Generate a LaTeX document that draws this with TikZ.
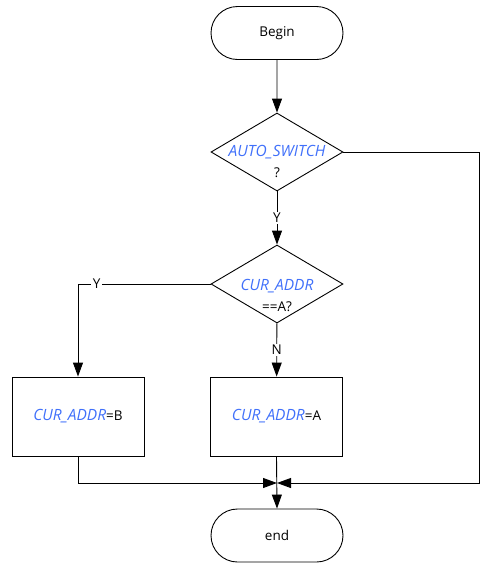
\documentclass[tikz,border=0pt]{standalone}
\usepackage{fontspec}
\setmainfont{Open Sans}
\usetikzlibrary{arrows.meta,shapes.geometric,shapes.misc}
\definecolor{varblue}{RGB}{64,112,250}
\newcommand{\varname}[1]{\textcolor{varblue}{\fontsize{15.5}{18}\selectfont\itshape #1}}
\begin{document}
\begin{tikzpicture}[x=1pt,y=-1pt,
  font=\fontsize{13.5}{16}\selectfont,
  line width=0.9pt,
  terminal/.style={draw, rounded rectangle, minimum width=132pt, minimum height=53pt, inner sep=0pt},
  decision/.style={draw, diamond, minimum width=132pt, minimum height=78pt, inner sep=0pt},
  process/.style={draw, rectangle, minimum width=132pt, minimum height=79pt, inner sep=0pt},
  txt/.style={inner sep=0pt, anchor=base},
  flow/.style={-{Triangle[length=14pt,width=10pt]}},
  branch/.style={fill=white, inner sep=1.5pt}]
\useasboundingbox (0,0) rectangle (480,563);

% terminals
\node[terminal] (begin) at (277,33) {Begin};
\node[terminal] (end) at (277,535.5) {end};

% decisions
\node[decision] (d1) at (277,152) {};
\node[txt] (d1a) at (277,156.5) {\varname{AUTO\_SWITCH}};
\node[txt] (d1b) at (277,177.5) {?};
\node[decision] (d2) at (277,284) {};
\node[txt] (d2a) at (277,290) {\varname{CUR\_ADDR}};
\node[txt] (d2b) at (277,311) {==A?};

% assignments
\node[process] (b1) at (78,416.5) {\varname{CUR\_ADDR}=B};
\node[process] (b2) at (276.5,416.5) {\varname{CUR\_ADDR}=A};

% junction points
\coordinate (join) at (277,483);
\coordinate (lc) at (78,483);
\coordinate (rc) at (479,483);

% connectors
\draw[flow] (begin) -- (d1);
\draw[flow] (d1) -- node[branch] (ly1) {Y} (d2);
\draw[flow] (d2.west) -| node[branch, pos=0.43] (ly2) {Y} (b1.north);
\draw[flow] (d2) -- node[branch] (ln) {N} (b2);
\draw[flow] (b1.south) -- (lc) -- (join);
\draw[flow] (d1.east) -| (rc) -- (join);
\draw[flow] (b2.south) -- (end.north);
\end{tikzpicture}
\end{document}
